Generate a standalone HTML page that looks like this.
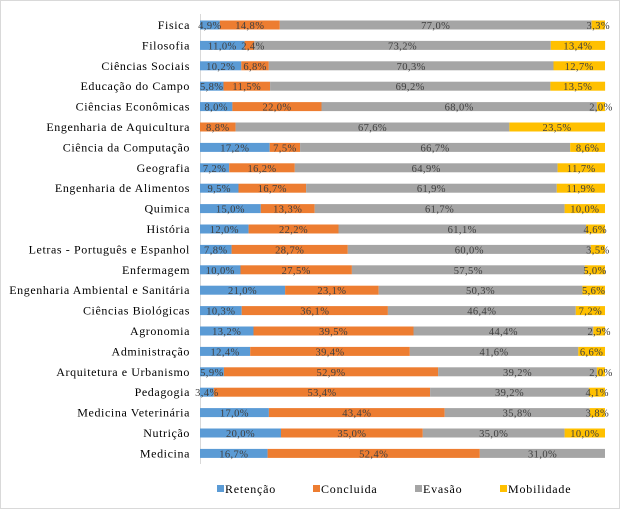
<!DOCTYPE html>
<html><head><meta charset="utf-8"><style>
html,body{margin:0;padding:0;background:#fff}
svg{display:block}
text{font-family:"Liberation Serif",serif;fill:#404040}
.c{font-size:12px;letter-spacing:0.6px;text-anchor:end;fill:#000}
.v{font-size:10.5px;letter-spacing:0.4px;text-anchor:middle}
.l{font-size:12px;letter-spacing:0.8px;fill:#000}
.b{fill:#5B9BD5}.o{fill:#ED7D31}.g{fill:#A5A5A5}.y{fill:#FFC000}
</style></head><body>
<svg width="620" height="509" viewBox="0 0 620 509" xmlns="http://www.w3.org/2000/svg">
<rect x="0.5" y="0.5" width="619" height="508" fill="#fff" stroke="#d9d9d9"/>
<line x1="200.5" y1="14" x2="200.5" y2="464" stroke="#d9d9d9"/>

<g transform="translate(0,25)"><text class="c" x="190" y="4">Fisica</text>
<rect class="b" x="200" y="-4.5" width="19.8" height="9"/><rect class="o" x="219.8" y="-4.5" width="60" height="9"/><rect class="g" x="279.8" y="-4.5" width="311.8" height="9"/><rect class="y" x="591.6" y="-4.5" width="13.4" height="9"/>
<text class="v" x="209.9" y="4">4,9%</text><text class="v" x="249.8" y="4">14,8%</text><text class="v" x="435.7" y="4">77,0%</text><text class="v" x="598.3" y="4">3,3%</text></g>

<g transform="translate(0,45.4)"><text class="c" x="190" y="4">Filosofia</text>
<rect class="b" x="200" y="-4.5" width="44.6" height="9"/><rect class="o" x="244.6" y="-4.5" width="9.7" height="9"/><rect class="g" x="254.3" y="-4.5" width="296.5" height="9"/><rect class="y" x="550.8" y="-4.5" width="54.3" height="9"/>
<text class="v" x="222.3" y="4">11,0%</text><text class="v" x="253" y="4">2,4%</text><text class="v" x="402.5" y="4">73,2%</text><text class="v" x="577.9" y="4">13,4%</text></g>

<g transform="translate(0,65.8)"><text class="c" x="190" y="4">Ciências Sociais</text>
<rect class="b" x="200" y="-4.5" width="41.3" height="9"/><rect class="o" x="241.3" y="-4.5" width="27.5" height="9"/><rect class="g" x="268.8" y="-4.5" width="284.7" height="9"/><rect class="y" x="553.5" y="-4.5" width="51.5" height="9"/>
<text class="v" x="220.7" y="4">10,2%</text><text class="v" x="255.1" y="4">6,8%</text><text class="v" x="411.2" y="4">70,3%</text><text class="v" x="579.2" y="4">12,7%</text></g>

<g transform="translate(0,86.2)"><text class="c" x="190" y="4">Educação do Campo</text>
<rect class="b" x="200" y="-4.5" width="23.5" height="9"/><rect class="o" x="223.5" y="-4.5" width="46.6" height="9"/><rect class="g" x="270.1" y="-4.5" width="280.3" height="9"/><rect class="y" x="550.4" y="-4.5" width="54.7" height="9"/>
<text class="v" x="211.7" y="4">5,8%</text><text class="v" x="246.8" y="4">11,5%</text><text class="v" x="410.2" y="4">69,2%</text><text class="v" x="577.7" y="4">13,5%</text></g>

<g transform="translate(0,106.6)"><text class="c" x="190" y="4">Ciências Econômicas</text>
<rect class="b" x="200" y="-4.5" width="32.4" height="9"/><rect class="o" x="232.4" y="-4.5" width="89.1" height="9"/><rect class="g" x="321.5" y="-4.5" width="275.4" height="9"/><rect class="y" x="596.9" y="-4.5" width="8.1" height="9"/>
<text class="v" x="216.2" y="4">8,0%</text><text class="v" x="277" y="4">22,0%</text><text class="v" x="459.2" y="4">68,0%</text><text class="v" x="601" y="4">2,0%</text></g>

<g transform="translate(0,127)"><text class="c" x="190" y="4">Engenharia de Aquicultura</text>
<rect class="o" x="200" y="-4.5" width="35.6" height="9"/><rect class="g" x="235.6" y="-4.5" width="273.8" height="9"/><rect class="y" x="509.4" y="-4.5" width="95.6" height="9"/>
<text class="v" x="217.8" y="4">8,8%</text><text class="v" x="372.5" y="4">67,6%</text><text class="v" x="557" y="4">23,5%</text></g>

<g transform="translate(0,147.4)"><text class="c" x="190" y="4">Ciência da Computação</text>
<rect class="b" x="200" y="-4.5" width="69.7" height="9"/><rect class="o" x="269.7" y="-4.5" width="30.4" height="9"/><rect class="g" x="300.1" y="-4.5" width="270.1" height="9"/><rect class="y" x="570.2" y="-4.5" width="34.8" height="9"/>
<text class="v" x="234.8" y="4">17,2%</text><text class="v" x="284.9" y="4">7,5%</text><text class="v" x="435.1" y="4">66,7%</text><text class="v" x="587.6" y="4">8,6%</text></g>

<g transform="translate(0,167.8)"><text class="c" x="190" y="4">Geografia</text>
<rect class="b" x="200" y="-4.5" width="29.2" height="9"/><rect class="o" x="229.2" y="-4.5" width="65.6" height="9"/><rect class="g" x="294.8" y="-4.5" width="262.8" height="9"/><rect class="y" x="557.6" y="-4.5" width="47.4" height="9"/>
<text class="v" x="214.6" y="4">7,2%</text><text class="v" x="262" y="4">16,2%</text><text class="v" x="426.2" y="4">64,9%</text><text class="v" x="581.3" y="4">11,7%</text></g>

<g transform="translate(0,188.2)"><text class="c" x="190" y="4">Engenharia de Alimentos</text>
<rect class="b" x="200" y="-4.5" width="38.5" height="9"/><rect class="o" x="238.5" y="-4.5" width="67.6" height="9"/><rect class="g" x="306.1" y="-4.5" width="250.7" height="9"/><rect class="y" x="556.8" y="-4.5" width="48.2" height="9"/>
<text class="v" x="219.2" y="4">9,5%</text><text class="v" x="272.3" y="4">16,7%</text><text class="v" x="431.4" y="4">61,9%</text><text class="v" x="580.9" y="4">11,9%</text></g>

<g transform="translate(0,208.6)"><text class="c" x="190" y="4">Quimica</text>
<rect class="b" x="200" y="-4.5" width="60.8" height="9"/><rect class="o" x="260.8" y="-4.5" width="53.9" height="9"/><rect class="g" x="314.7" y="-4.5" width="249.9" height="9"/><rect class="y" x="564.6" y="-4.5" width="40.4" height="9"/>
<text class="v" x="230.4" y="4">15,0%</text><text class="v" x="287.7" y="4">13,3%</text><text class="v" x="439.6" y="4">61,7%</text><text class="v" x="584.8" y="4">10,0%</text></g>

<g transform="translate(0,229)"><text class="c" x="190" y="4">História</text>
<rect class="b" x="200" y="-4.5" width="48.6" height="9"/><rect class="o" x="248.6" y="-4.5" width="89.9" height="9"/><rect class="g" x="338.5" y="-4.5" width="247.5" height="9"/><rect class="y" x="586" y="-4.5" width="19" height="9"/>
<text class="v" x="224.3" y="4">12,0%</text><text class="v" x="293.5" y="4">22,2%</text><text class="v" x="462.2" y="4">61,1%</text><text class="v" x="595.3" y="4">4,6%</text></g>

<g transform="translate(0,249.4)"><text class="c" x="190" y="4">Letras - Português e Espanhol</text>
<rect class="b" x="200" y="-4.5" width="31.6" height="9"/><rect class="o" x="231.6" y="-4.5" width="116.2" height="9"/><rect class="g" x="347.8" y="-4.5" width="243" height="9"/><rect class="y" x="590.8" y="-4.5" width="14.2" height="9"/>
<text class="v" x="215.8" y="4">7,8%</text><text class="v" x="289.7" y="4">28,7%</text><text class="v" x="469.3" y="4">60,0%</text><text class="v" x="597.9" y="4">3,5%</text></g>

<g transform="translate(0,269.8)"><text class="c" x="190" y="4">Enfermagem</text>
<rect class="b" x="200" y="-4.5" width="40.5" height="9"/><rect class="o" x="240.5" y="-4.5" width="111.4" height="9"/><rect class="g" x="351.9" y="-4.5" width="232.9" height="9"/><rect class="y" x="584.8" y="-4.5" width="20.2" height="9"/>
<text class="v" x="220.2" y="4">10,0%</text><text class="v" x="296.2" y="4">27,5%</text><text class="v" x="468.3" y="4">57,5%</text><text class="v" x="595" y="4">5,0%</text></g>

<g transform="translate(0,290.2)"><text class="c" x="190" y="4">Engenharia Ambiental e Sanitária</text>
<rect class="b" x="200" y="-4.5" width="85.1" height="9"/><rect class="o" x="285.1" y="-4.5" width="93.6" height="9"/><rect class="g" x="378.7" y="-4.5" width="203.7" height="9"/><rect class="y" x="582.4" y="-4.5" width="22.6" height="9"/>
<text class="v" x="242.5" y="4">21,0%</text><text class="v" x="331.9" y="4">23,1%</text><text class="v" x="480.5" y="4">50,3%</text><text class="v" x="593.7" y="4">5,6%</text></g>

<g transform="translate(0,310.6)"><text class="c" x="190" y="4">Ciências Biológicas</text>
<rect class="b" x="200" y="-4.5" width="41.7" height="9"/><rect class="o" x="241.7" y="-4.5" width="146.2" height="9"/><rect class="g" x="387.9" y="-4.5" width="187.9" height="9"/><rect class="y" x="575.8" y="-4.5" width="29.2" height="9"/>
<text class="v" x="220.8" y="4">10,3%</text><text class="v" x="314.8" y="4">36,1%</text><text class="v" x="481.8" y="4">46,4%</text><text class="v" x="590.4" y="4">7,2%</text></g>

<g transform="translate(0,331)"><text class="c" x="190" y="4">Agronomia</text>
<rect class="b" x="200" y="-4.5" width="53.5" height="9"/><rect class="o" x="253.5" y="-4.5" width="160" height="9"/><rect class="g" x="413.5" y="-4.5" width="179.8" height="9"/><rect class="y" x="593.3" y="-4.5" width="11.7" height="9"/>
<text class="v" x="226.7" y="4">13,2%</text><text class="v" x="333.5" y="4">39,5%</text><text class="v" x="503.4" y="4">44,4%</text><text class="v" x="599.2" y="4">2,9%</text></g>

<g transform="translate(0,351.4)"><text class="c" x="190" y="4">Administração</text>
<rect class="b" x="200" y="-4.5" width="50.2" height="9"/><rect class="o" x="250.2" y="-4.5" width="159.6" height="9"/><rect class="g" x="409.8" y="-4.5" width="168.5" height="9"/><rect class="y" x="578.3" y="-4.5" width="26.7" height="9"/>
<text class="v" x="225.1" y="4">12,4%</text><text class="v" x="330" y="4">39,4%</text><text class="v" x="494" y="4">41,6%</text><text class="v" x="591.6" y="4">6,6%</text></g>

<g transform="translate(0,371.8)"><text class="c" x="190" y="4">Arquitetura e Urbanismo</text>
<rect class="b" x="200" y="-4.5" width="23.9" height="9"/><rect class="o" x="223.9" y="-4.5" width="214.2" height="9"/><rect class="g" x="438.1" y="-4.5" width="158.8" height="9"/><rect class="y" x="596.9" y="-4.5" width="8.1" height="9"/>
<text class="v" x="211.9" y="4">5,9%</text><text class="v" x="331" y="4">52,9%</text><text class="v" x="517.5" y="4">39,2%</text><text class="v" x="601" y="4">2,0%</text></g>

<g transform="translate(0,392.2)"><text class="c" x="190" y="4">Pedagogia</text>
<rect class="b" x="200" y="-4.5" width="13.8" height="9"/><rect class="o" x="213.8" y="-4.5" width="216.3" height="9"/><rect class="g" x="430.1" y="-4.5" width="158.8" height="9"/><rect class="y" x="588.9" y="-4.5" width="16.1" height="9"/>
<text class="v" x="206.9" y="4">3,4%</text><text class="v" x="322" y="4">53,4%</text><text class="v" x="509.5" y="4">39,2%</text><text class="v" x="597.2" y="4">4,1%</text></g>

<g transform="translate(0,412.6)"><text class="c" x="190" y="4">Medicina Veterinária</text>
<rect class="b" x="200" y="-4.5" width="68.9" height="9"/><rect class="o" x="268.9" y="-4.5" width="175.8" height="9"/><rect class="g" x="444.7" y="-4.5" width="145" height="9"/><rect class="y" x="589.7" y="-4.5" width="15.3" height="9"/>
<text class="v" x="234.4" y="4">17,0%</text><text class="v" x="356.8" y="4">43,4%</text><text class="v" x="517.2" y="4">35,8%</text><text class="v" x="597.4" y="4">3,8%</text></g>

<g transform="translate(0,433)"><text class="c" x="190" y="4">Nutrição</text>
<rect class="b" x="200" y="-4.5" width="81" height="9"/><rect class="o" x="281" y="-4.5" width="141.8" height="9"/><rect class="g" x="422.8" y="-4.5" width="141.8" height="9"/><rect class="y" x="564.6" y="-4.5" width="40.4" height="9"/>
<text class="v" x="240.5" y="4">20,0%</text><text class="v" x="351.9" y="4">35,0%</text><text class="v" x="493.7" y="4">35,0%</text><text class="v" x="584.8" y="4">10,0%</text></g>

<g transform="translate(0,453.4)"><text class="c" x="190" y="4">Medicina</text>
<rect class="b" x="200" y="-4.5" width="67.6" height="9"/><rect class="o" x="267.6" y="-4.5" width="212.2" height="9"/><rect class="g" x="479.8" y="-4.5" width="125.2" height="9"/>
<text class="v" x="233.8" y="4">16,7%</text><text class="v" x="373.7" y="4">52,4%</text><text class="v" x="542.6" y="4">31,0%</text></g>

<rect class="b" x="217" y="485" width="7" height="7"/><text class="l" x="225" y="493">Retenção</text>
<rect class="o" x="313" y="485" width="7" height="7"/><text class="l" x="321" y="493">Concluida</text>
<rect class="g" x="415" y="485" width="7" height="7"/><text class="l" x="423" y="493">Evasão</text>
<rect class="y" x="500" y="485" width="7" height="7"/><text class="l" x="508" y="493">Mobilidade</text>
</svg>
</body></html>
